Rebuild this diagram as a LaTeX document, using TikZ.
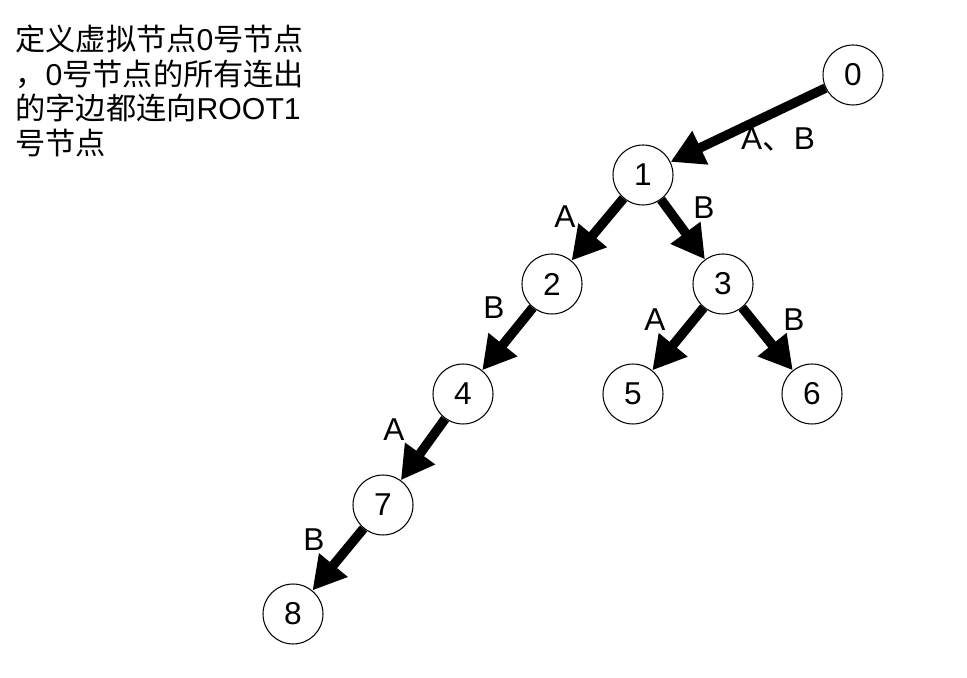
\documentclass[tikz,border=0pt]{standalone}
\usepackage{fontspec}
\setmainfont{Liberation Sans}
\newfontfamily\cjk{Noto Sans CJK SC}
\usetikzlibrary{arrows.meta}

\begin{document}
\begin{tikzpicture}[x=0.02cm,y=-0.02cm,
 every node/.style={font=\fontsize{18}{20}\selectfont},
 state/.style={circle,draw,line width=.6pt,minimum size=1.2cm,inner sep=0pt},
 trans/.style={line width=5.4pt,-{Triangle[length=.66cm,width=.7cm]}}]
 \useasboundingbox (0,0) rectangle (967,678);
 % states of the automaton
 \foreach \n/\x/\y in {0/853/75,1/643/175,2/552/284,3/723/284,
   4/463/394,5/633/394,6/812/394,7/383/505,8/293/614}
  {\node[state] (n\n) at (\x,\y) {\n};}
 % transitions
 \foreach \a/\b in {0/1,1/2,1/3,2/4,3/5,3/6,4/7,7/8}
  {\draw[trans] (n\a) -- (n\b);}
 \node (l01) at (778,140) {A{\cjk 、}B};
 \foreach \a/\b/\x/\y/\lab in {1/2/565/217/A,1/3/704/208/B,2/4/494/308/B,
   3/5/655/320/A,3/6/794/320/B,4/7/394/430/A,7/8/314/540/B}
  {\node (l\a\b) at (\x,\y) {\lab};}
 % note
 \node[anchor=north west,align=left,inner sep=0pt,font=\fontsize{17.2}{19.6}\selectfont]
  (note) at (15,25)
  {{\cjk 定义虚拟节点}0{\cjk 号节点}\\
   {\cjk ，}0{\cjk 号节点的所有连出}\\
   {\cjk 的字边都连向}ROOT1\\
   {\cjk 号节点}};
\end{tikzpicture}
\end{document}
